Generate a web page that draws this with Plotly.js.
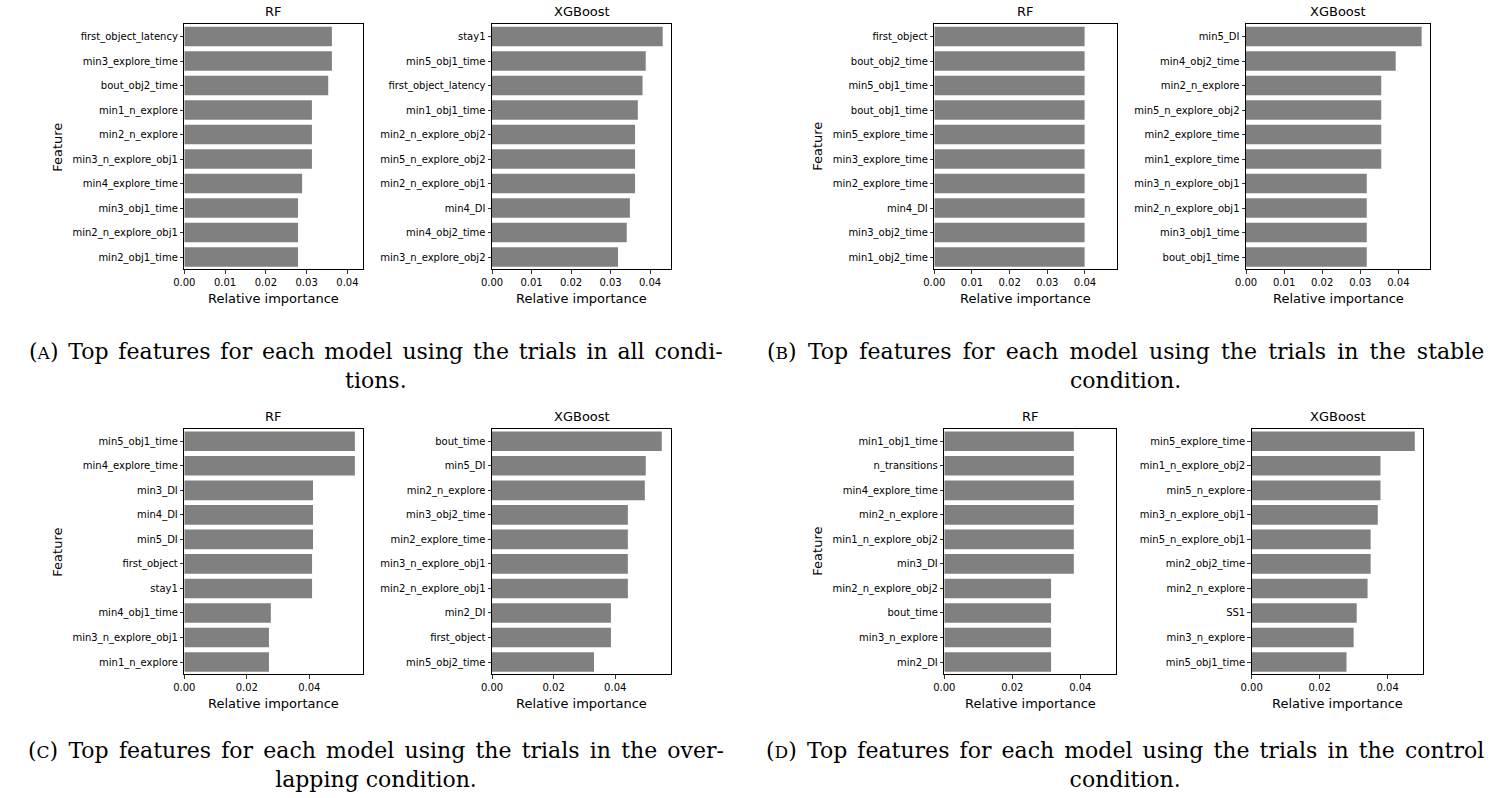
<!DOCTYPE html>
<html><head><meta charset="utf-8">
<script src="https://cdn.plot.ly/plotly-3.0.1.min.js"></script>
<style>html,body{margin:0;padding:0;background:#fff}#chart{width:1502px;height:798px}</style>
</head><body><div id="chart"></div>
<script>
// ---------- DATA ----------
const rfA_features = ["first_object_latency","min3_explore_time","bout_obj2_time","min1_n_explore","min2_n_explore","min3_n_explore_obj1","min4_explore_time","min3_obj1_time","min2_n_explore_obj1","min2_obj1_time"];
const rfA_values = [0.0362,0.0362,0.0353,0.0313,0.0313,0.0313,0.0289,0.0279,0.0279,0.0279];

const xgbA_features = ["stay1","min5_obj1_time","first_object_latency","min1_obj1_time","min2_n_explore_obj2","min5_n_explore_obj2","min2_n_explore_obj1","min4_DI","min4_obj2_time","min3_n_explore_obj2"];
const xgbA_values = [0.0432,0.0389,0.0381,0.0369,0.0362,0.0362,0.0362,0.0349,0.0341,0.0319];

const rfB_features = ["first_object","bout_obj2_time","min5_obj1_time","bout_obj1_time","min5_explore_time","min3_explore_time","min2_explore_time","min4_DI","min3_obj2_time","min1_obj2_time"];
const rfB_values = [0.0399,0.0399,0.0399,0.0399,0.0399,0.0399,0.0399,0.0399,0.0399,0.0399];

const xgbB_features = ["min5_DI","min4_obj2_time","min2_n_explore","min5_n_explore_obj2","min2_explore_time","min1_explore_time","min3_n_explore_obj1","min2_n_explore_obj1","min3_obj1_time","bout_obj1_time"];
const xgbB_values = [0.0461,0.0393,0.0355,0.0355,0.0355,0.0355,0.0317,0.0317,0.0317,0.0317];

const rfC_features = ["min5_obj1_time","min4_explore_time","min3_DI","min4_DI","min5_DI","first_object","stay1","min4_obj1_time","min3_n_explore_obj1","min1_n_explore"];
const rfC_values = [0.0546,0.0546,0.0412,0.0412,0.0412,0.0409,0.0409,0.0277,0.0271,0.0271];

const xgbC_features = ["bout_time","min5_DI","min2_n_explore","min3_obj2_time","min2_explore_time","min3_n_explore_obj1","min2_n_explore_obj1","min2_DI","first_object","min5_obj2_time"];
const xgbC_values = [0.0551,0.0499,0.0496,0.0441,0.0441,0.0441,0.0441,0.0386,0.0386,0.0331];

const rfD_features = ["min1_obj1_time","n_transitions","min4_explore_time","min2_n_explore","min1_n_explore_obj2","min3_DI","min2_n_explore_obj2","bout_time","min3_n_explore","min2_DI"];
const rfD_values = [0.0381,0.0381,0.0381,0.0381,0.0381,0.0381,0.0314,0.0314,0.0314,0.0314];

const xgbD_features = ["min5_explore_time","min1_n_explore_obj2","min5_n_explore","min3_n_explore_obj1","min5_n_explore_obj1","min2_obj2_time","min2_n_explore","SS1","min3_n_explore","min5_obj1_time"];
const xgbD_values = [0.0480,0.0379,0.0379,0.0371,0.0350,0.0350,0.0341,0.0309,0.0300,0.0279];

const modelTitles = ["RF","XGBoost","RF","XGBoost","RF","XGBoost","RF","XGBoost"];
const captionLetters = ["A","B","C","D"];
const captionLine1 = [
  " Top features for each model using the trials in all condi-",
  " Top features for each model using the trials in the stable",
  " Top features for each model using the trials in the over-",
  " Top features for each model using the trials in the control"
];
const captionLine2 = ["tions.","condition.","lapping condition.","condition."];

// ---------- LAYOUT GEOMETRY (pixels) ----------
const W = 1502, H = 798;
const feats = [rfA_features,xgbA_features,rfB_features,xgbB_features,rfC_features,xgbC_features,rfD_features,xgbD_features];
const vals  = [rfA_values,xgbA_values,rfB_values,xgbB_values,rfC_values,xgbC_values,rfD_values,xgbD_values];
const boxes = [
  [184.3,363.3,24.3,269.3],[492,671,24.3,269.3],
  [934.3,1117,24.3,269.3],[1246,1430,24.3,269.3],
  [184.3,363.3,429,674.3],[492,671,429,674.3],
  [944.3,1116,429,674.3],[1251.7,1423.3,429,674.3]
];
const xMax  = [0.0439,0.0453,0.0485,0.0483,0.0573,0.0581,0.0505,0.0505];
const xStep = [0.01,0.01,0.01,0.01,0.02,0.02,0.02,0.02];
const featureLabelX = [58,null,818,null,58,null,818,null];
const captionCenters = [[375.5,337],[1125,337],[375.5,736],[1125,736]];
const captionWordSpacing = [2.8, 4.2, 3.2, 3.1];

const tickFont = {family:"DejaVu Sans", size:10, color:"#000"};
const labFont  = {family:"DejaVu Sans", size:13, color:"#000"};
const capFont  = {family:"DejaVu Serif", size:22, color:"#000"};

const data = [];
const layout = {
  width:W, height:H, margin:{l:0,r:0,t:0,b:0},
  paper_bgcolor:"#fff", plot_bgcolor:"#fff",
  showlegend:false, bargap:0.2, annotations:[]
};
const px = v => v / W, py = v => 1 - v / H;

for (let i = 0; i < 8; i++) {
  const n = i === 0 ? "" : String(i + 1);
  const b = boxes[i];
  data.push({
    type:"bar", orientation:"h", x: vals[i], y: feats[i],
    xaxis:"x"+n, yaxis:"y"+n,
    marker:{color:"#808080", line:{width:0}}, hoverinfo:"skip"
  });
  layout["xaxis"+n] = {
    domain:[px(b[0]), px(b[1])], anchor:"y"+n, range:[0, xMax[i]],
    tick0:0, dtick:xStep[i], tickformat:".2f",
    ticks:"outside", ticklen:3.5, tickwidth:0.8, tickcolor:"#000",
    showline:true, linecolor:"#000", linewidth:1, mirror:true,
    showgrid:false, zeroline:false, tickfont:tickFont, fixedrange:true
  };
  layout["yaxis"+n] = {
    domain:[py(b[3]), py(b[2])], anchor:"x"+n, type:"category",
    range:[feats[i].length - 0.5, -0.5],
    ticks:"outside", ticklen:3.5, tickwidth:0.8, tickcolor:"#000",
    showline:true, linecolor:"#000", linewidth:1, mirror:true,
    showgrid:false, zeroline:false, tickfont:tickFont, fixedrange:true
  };
  const cx = px((b[0] + b[1]) / 2);
  layout.annotations.push({
    text: modelTitles[i], xref:"paper", yref:"paper", x:cx, y:py(b[2]),
    xanchor:"center", yanchor:"bottom", yshift:3, showarrow:false, font:labFont
  });
  layout.annotations.push({
    text:"Relative importance", xref:"paper", yref:"paper", x:cx, y:py(b[3]),
    xanchor:"center", yanchor:"top", yshift:-20, showarrow:false, font:labFont
  });
  if (featureLabelX[i] !== null) {
    layout.annotations.push({
      text:"Feature", xref:"paper", yref:"paper", x:px(featureLabelX[i]), y:py((b[2]+b[3])/2),
      xanchor:"center", yanchor:"middle", textangle:-90, showarrow:false, font:labFont
    });
  }
}
for (let k = 0; k < 4; k++) {
  const c = captionCenters[k];
  const line1 = "(<span style=\"font-size:17px\">" + captionLetters[k] + "</span>)" +
    "<span style=\"word-spacing:" + captionWordSpacing[k] + "px\">" + captionLine1[k] + "</span>";
  layout.annotations.push({
    text: line1 + "<br>" + captionLine2[k], xref:"paper", yref:"paper", x:px(c[0]), y:py(c[1]),
    xanchor:"center", yanchor:"top", align:"center", showarrow:false, font:capFont
  });
}

Plotly.newPlot("chart", data, layout, {displayModeBar:false, staticPlot:true});
</script>
</body></html>
